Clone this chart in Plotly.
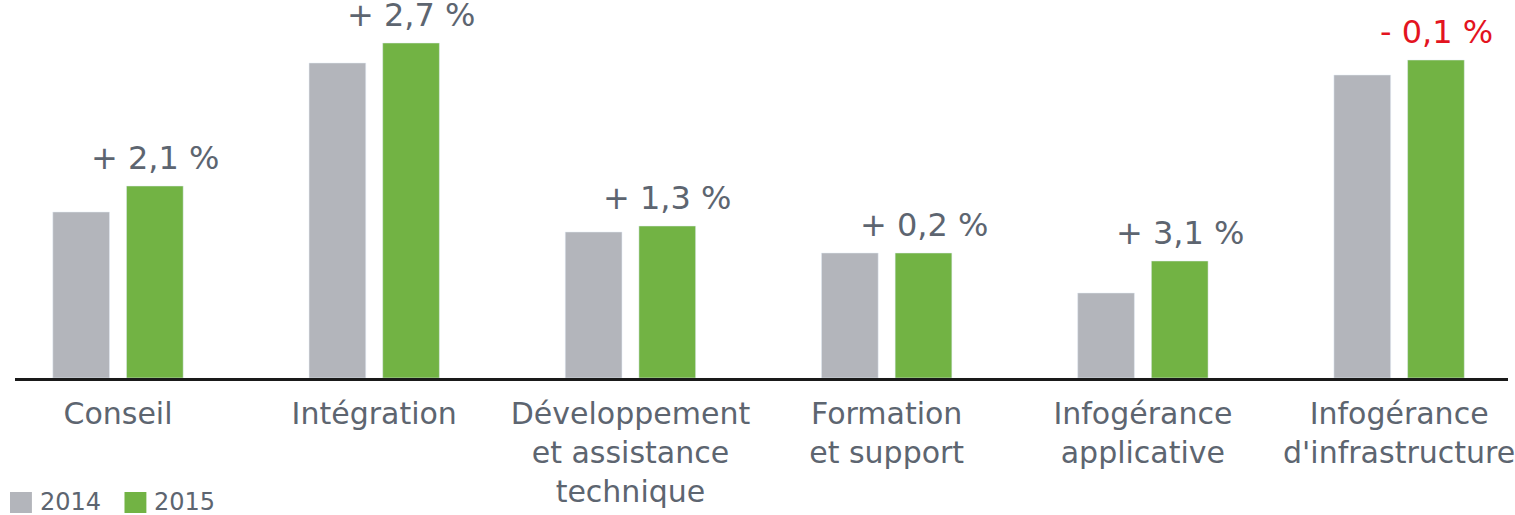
import plotly.graph_objects as go

categories = ["Conseil", "Intégration", "Développement<br>et assistance<br>technique",
              "Formation<br>et support", "Infogérance<br>applicative", "Infogérance<br>d'infrastructure"]
values_2014 = [166, 315, 146, 125, 85, 303]
values_2015 = [192, 335, 152, 125, 117, 318]
growth_labels = ["+ 2,1 %", "+ 2,7 %", "+ 1,3 %", "+ 0,2 %", "+ 3,1 %", "- 0,1 %"]

GRAY = "#b3b5bb"
GREEN = "#72b344"
TEXT = "#5d6570"
RED = "#e3141f"
FONT = "DejaVu Sans"

idx = list(range(len(categories)))

fig = go.Figure()
fig.add_bar(x=idx, y=values_2014, name="2014", marker_color=GRAY, hoverinfo="skip")
fig.add_bar(x=idx, y=values_2015, name="2015", marker_color=GREEN, hoverinfo="skip")

# growth labels above the 2015 bars
for i, (v, lab) in enumerate(zip(values_2015, growth_labels)):
    fig.add_annotation(x=i, y=v, text=lab, showarrow=False, xshift=37, yshift=7,
                       yanchor="bottom", xanchor="center",
                       font=dict(family=FONT, size=32, color=RED if lab.startswith("-") else TEXT))

# legend drawn by hand (bigger squares than plotly's swatches)
for x0, color, label in [(10, GRAY, "2014"), (125, GREEN, "2015")]:
    fig.add_shape(type="rect", xref="paper", yref="paper",
                  x0=(x0 - 15) / 1500, x1=(x0 + 22 - 15) / 1500,
                  y0=-(492 - 378) / 378, y1=-(513 - 378) / 378,
                  fillcolor=color, line_width=0)
    fig.add_annotation(xref="paper", yref="paper", x=(x0 + 28 - 15) / 1500, y=-(502 - 378) / 378,
                       text=label, showarrow=False, xanchor="left", yanchor="middle",
                       font=dict(family=FONT, size=24, color=TEXT))

fig.update_layout(
    width=1515, height=515,
    margin=dict(l=15, r=0, t=0, b=137),
    barmode="group", bargap=0.425, bargroupgap=0.23,
    plot_bgcolor="white", paper_bgcolor="white",
    showlegend=False,
    font=dict(family=FONT, color=TEXT),
)
fig.update_xaxes(range=[-0.402, 5.425], tickvals=idx, ticktext=categories,
                 showline=True, linecolor="#1a1a1a", linewidth=3, showgrid=False,
                 ticks="", tickfont=dict(family=FONT, size=30, color=TEXT),
                 ticklabelstandoff=7, ticklabeloverflow="allow", fixedrange=True)
fig.update_yaxes(range=[0, 378], visible=False, fixedrange=True)

fig.write_html("out.html", config={"displayModeBar": False},
               post_script="document.body.style.margin='0';")
